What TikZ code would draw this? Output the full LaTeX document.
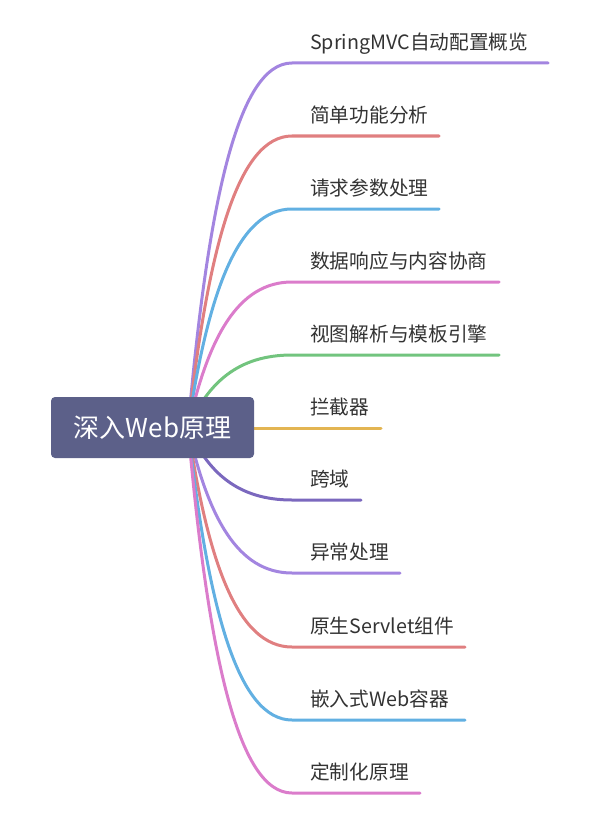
\documentclass[tikz,border=0pt]{standalone}
\usepackage{fontspec}
\newfontfamily\cjk{Noto Sans CJK SC}
\definecolor{rootfill}{HTML}{5C6089}
\definecolor{cA}{HTML}{A385E0}
\definecolor{cB}{HTML}{E07F80}
\definecolor{cC}{HTML}{62B0E2}
\definecolor{cD}{HTML}{DB7CCB}
\definecolor{cE}{HTML}{72C47E}
\definecolor{cF}{HTML}{E3B552}
\definecolor{cG}{HTML}{7B68BE}
\definecolor{txt}{HTML}{333333}
\tikzset{
  branch/.style={line width=3pt, line cap=round},
  lbl/.style={anchor=base west, inner sep=0pt, font=\cjk\fontsize{19.7}{21}\selectfont, text=txt},
}
\begin{document}
\begin{tikzpicture}[x=1pt,y=-1pt]
\useasboundingbox (0,0) rectangle (606,832);
\coordinate (o) at (188,428);
\foreach \i/\y/\xe/\c/\t in {
  1/63/548/cA/SpringMVC自动配置概览,
  2/136/439/cB/简单功能分析,
  3/209/439/cC/请求参数处理,
  4/282/499/cD/数据响应与内容协商,
  5/355/499/cE/视图解析与模板引擎,
  7/500/361/cG/跨域,
  8/573/400/cA/异常处理,
  9/647/465/cB/原生Servlet组件,
  10/720/465/cC/嵌入式Web容器,
  11/793/420/cD/定制化原理}{
  \pgfmathsetmacro{\cy}{\y+0.38*(428-\y)}
  \coordinate (s\i) at (292,\y);
  \coordinate (e\i) at (\xe,\y);
  \draw[branch,\c] (o) .. controls (208,\cy) and (238,\y) .. (s\i) -- (e\i);
  \node[lbl] (t\i) at (310,\y-13.5) {\t};
}
\coordinate (e6) at (381,428);
\draw[branch,cF] (o) -- (e6);
\node[lbl] (t6) at (310,414.5) {拦截器};
\node[fill=rootfill, rounded corners=4pt, minimum width=203pt, minimum height=61pt, inner sep=0pt,
  text=white, font=\cjk\fontsize{26}{28}\selectfont] (root) at (152.5,427.5) {深入Web原理};
\end{tikzpicture}
\end{document}
